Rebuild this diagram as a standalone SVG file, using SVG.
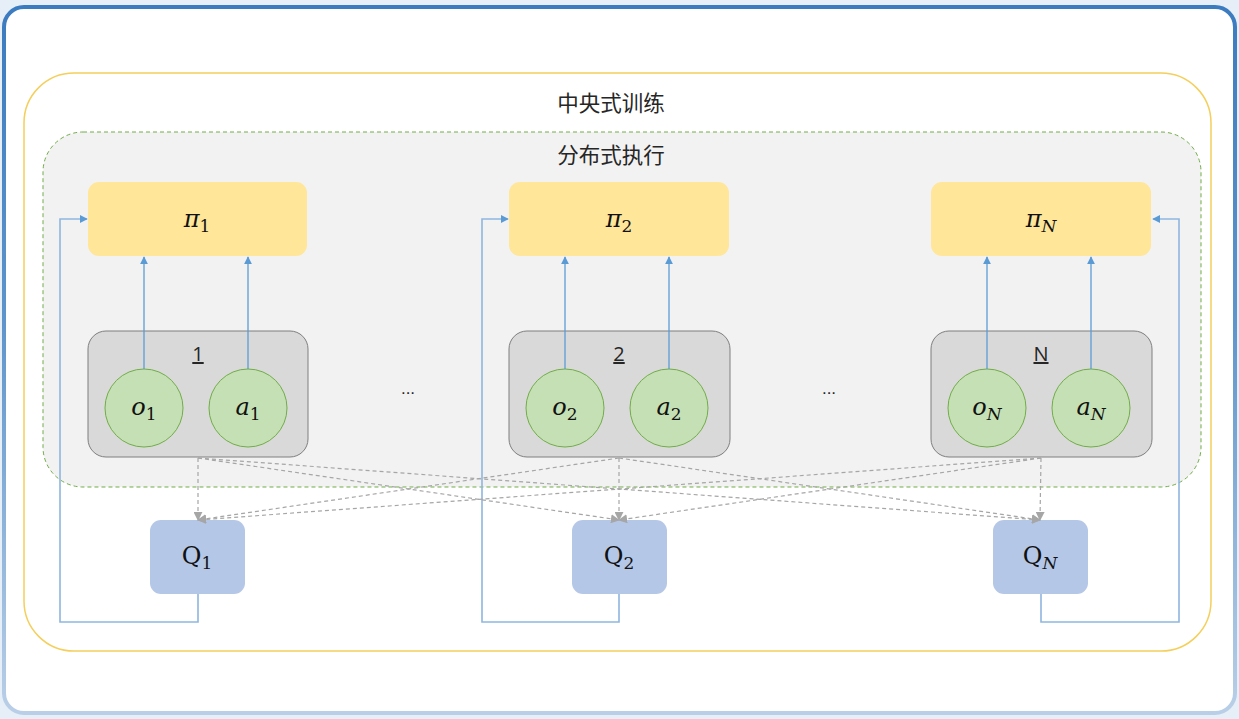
<svg xmlns="http://www.w3.org/2000/svg" width="1239" height="719" viewBox="0 0 1239 719">
<defs>
<linearGradient id="frameG" x1="0" y1="0" x2="0" y2="1">
<stop offset="0" stop-color="#3b7bbf"/>
<stop offset="0.45" stop-color="#5f95cc"/>
<stop offset="1" stop-color="#b9cfe7"/>
</linearGradient>
<marker id="ab" viewBox="0 0 10 10" refX="9" refY="5" markerWidth="8" markerHeight="8" markerUnits="userSpaceOnUse" orient="auto">
<path d="M0,0 L10,5 L0,10 z" fill="#5b9bd5"/>
</marker>
<marker id="ag" viewBox="0 0 10 10" refX="9" refY="5" markerWidth="9" markerHeight="9" markerUnits="userSpaceOnUse" orient="auto">
<path d="M0,0 L10,5 L0,10 z" fill="#a6a6a6"/>
</marker>
<style>
.cjk{font-family:"Noto Sans CJK SC","Noto Sans",sans-serif;font-size:21.5px;fill:#262626;text-anchor:middle}
.math{font-family:"DejaVu Serif","Liberation Serif",serif;font-style:italic;font-size:24px;fill:#111;text-anchor:middle}
.sub{font-style:normal;font-size:17px}
.subi{font-style:italic;font-size:17px}
.up{font-style:normal}
.pi{fill:#ffe699}
.agent{fill:#d9d9d9;stroke:#7f7f7f;stroke-width:1}
.obs{fill:#c5e0b4;stroke:#70ad47;stroke-width:1}
.q{fill:#b4c7e7}
.num{font-family:"Open Sans","Liberation Sans",sans-serif;font-size:20px;fill:#262626;text-anchor:middle;text-decoration:underline}
.dots{font-family:"Liberation Sans",sans-serif;font-size:17px;fill:#262626;text-anchor:middle}
.up-arrow{stroke:#5b9bd5;stroke-width:1.3;fill:none}
.fb{stroke:#8fb6df;stroke-width:1.6;fill:none}
.dash{stroke:#a6a6a6;stroke-width:1.2;stroke-dasharray:4 3;fill:none}
</style>
</defs>
<rect x="0" y="0" width="1239" height="719" fill="#e6eef8"/>
<rect x="4" y="7" width="1231" height="706" rx="20" fill="#ffffff" stroke="url(#frameG)" stroke-width="4"/>
<g id="training">
<rect x="24" y="73" width="1187" height="578" rx="50" fill="none" stroke="#f5cf5c" stroke-width="1.5"/>
<text class="cjk" x="611" y="111">中央式训练</text>
</g>
<g id="execution">
<rect x="43" y="132" width="1158" height="355" rx="40" fill="#f2f2f2" stroke="#70ad47" stroke-width="1" stroke-dasharray="4 3"/>
<text class="cjk" x="611" y="163">分布式执行</text>
</g>
<g id="pi1"><rect class="pi" x="88" y="182" width="219" height="74" rx="11"/><text class="math" x="197" y="227">π<tspan class="sub" dy="5">1</tspan></text></g>
<g id="pi2"><rect class="pi" x="509" y="182" width="220" height="74" rx="11"/><text class="math" x="619" y="227">π<tspan class="sub" dy="5">2</tspan></text></g>
<g id="piN"><rect class="pi" x="931" y="182" width="220" height="74" rx="11"/><text class="math" x="1041" y="227">π<tspan class="subi" dy="5">N</tspan></text></g>
<g id="agent1">
<rect class="agent" x="88" y="331" width="220" height="126" rx="18"/>
<text class="num" x="198" y="361">1</text>
<circle class="obs" cx="144" cy="408" r="39"/><text class="math" x="144" y="415">o<tspan class="sub" dy="5">1</tspan></text>
<circle class="obs" cx="248" cy="408" r="39"/><text class="math" x="248" y="415">a<tspan class="sub" dy="5">1</tspan></text>
</g>
<g id="agent2">
<rect class="agent" x="509" y="331" width="221" height="126" rx="18"/>
<text class="num" x="619" y="361">2</text>
<circle class="obs" cx="565" cy="408" r="39"/><text class="math" x="565" y="415">o<tspan class="sub" dy="5">2</tspan></text>
<circle class="obs" cx="669" cy="408" r="39"/><text class="math" x="669" y="415">a<tspan class="sub" dy="5">2</tspan></text>
</g>
<g id="agentN">
<rect class="agent" x="931" y="331" width="221" height="126" rx="18"/>
<text class="num" x="1041" y="361">N</text>
<circle class="obs" cx="987" cy="408" r="39"/><text class="math" x="987" y="415">o<tspan class="subi" dy="5">N</tspan></text>
<circle class="obs" cx="1091" cy="408" r="39"/><text class="math" x="1091" y="415">a<tspan class="subi" dy="5">N</tspan></text>
</g>
<g id="dots1"><text class="dots" x="408" y="394">...</text></g>
<g id="dots2"><text class="dots" x="829" y="394">...</text></g>
<g id="q1"><rect class="q" x="150" y="520" width="95" height="74" rx="11"/><text class="math" x="197" y="564"><tspan class="up">Q</tspan><tspan class="sub" dy="5">1</tspan></text></g>
<g id="q2"><rect class="q" x="572" y="520" width="95" height="74" rx="11"/><text class="math" x="619" y="564"><tspan class="up">Q</tspan><tspan class="sub" dy="5">2</tspan></text></g>
<g id="qN"><rect class="q" x="993" y="520" width="95" height="74" rx="11"/><text class="math" x="1040" y="564"><tspan class="up">Q</tspan><tspan class="subi" dy="5">N</tspan></text></g>
<g id="connectors">
<path class="up-arrow" marker-end="url(#ab)" d="M144,369 V257"/>
<path class="up-arrow" marker-end="url(#ab)" d="M248,369 V257"/>
<path class="up-arrow" marker-end="url(#ab)" d="M565,369 V257"/>
<path class="up-arrow" marker-end="url(#ab)" d="M669,369 V257"/>
<path class="up-arrow" marker-end="url(#ab)" d="M987,369 V257"/>
<path class="up-arrow" marker-end="url(#ab)" d="M1091,369 V257"/>
<path class="fb" marker-end="url(#ab)" d="M198,594 V622 H60 V219 H87"/>
<path class="fb" marker-end="url(#ab)" d="M619,594 V622 H482 V219 H508"/>
<path class="fb" marker-end="url(#ab)" d="M1041,594 V622 H1179 V219 H1153"/>
<path class="dash" marker-end="url(#ag)" d="M198,458 L198,520"/>
<path class="dash" marker-end="url(#ag)" d="M198,458 L619,520"/>
<path class="dash" marker-end="url(#ag)" d="M198,458 L1040,520"/>
<path class="dash" marker-end="url(#ag)" d="M619,458 L198,520"/>
<path class="dash" marker-end="url(#ag)" d="M619,458 L619,520"/>
<path class="dash" marker-end="url(#ag)" d="M619,458 L1040,520"/>
<path class="dash" marker-end="url(#ag)" d="M1041,458 L198,520"/>
<path class="dash" marker-end="url(#ag)" d="M1041,458 L619,520"/>
<path class="dash" marker-end="url(#ag)" d="M1041,458 L1040,520"/>
</g>
</svg>
